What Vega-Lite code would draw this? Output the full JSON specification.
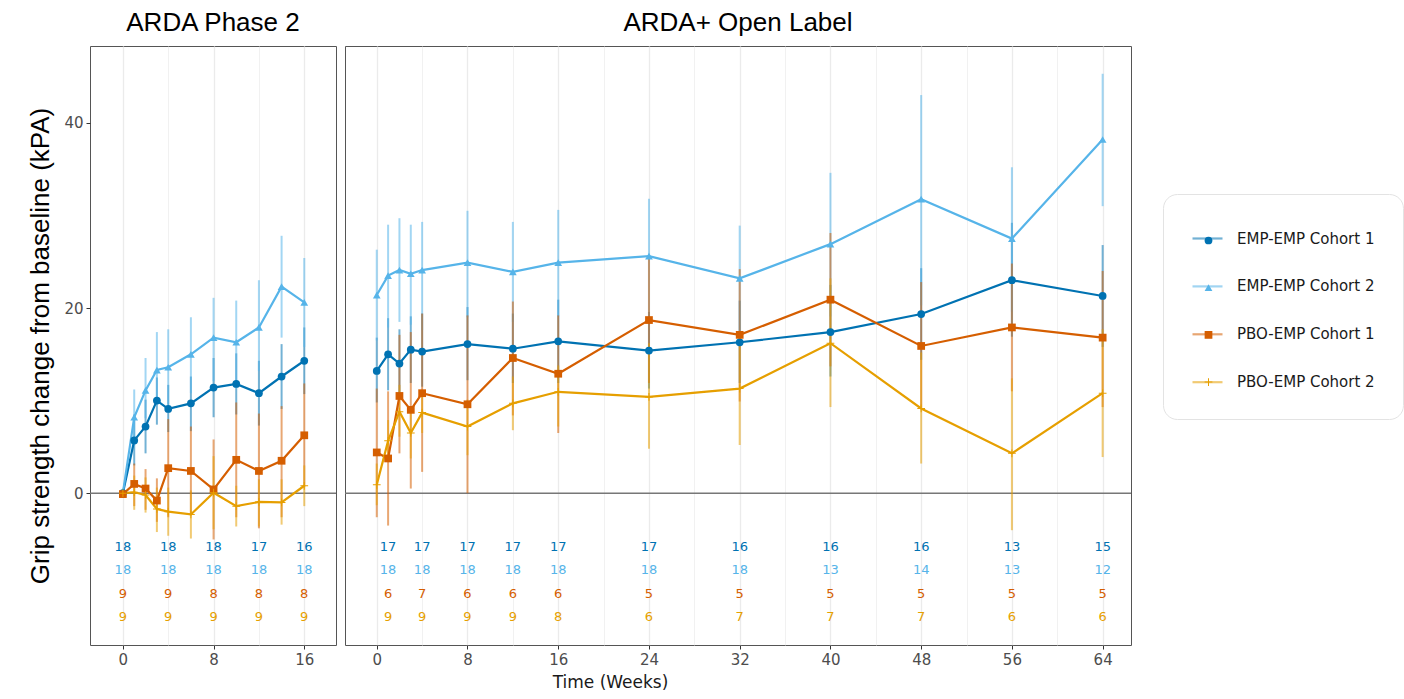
{
  "$schema": "https://vega.github.io/schema/vega-lite/v6.json",
  "background": "white",
  "padding": {"left": 27, "top": 9, "right": 0, "bottom": 4},
  "spacing": 5,
  "config": {
    "view": {"stroke": "#555555", "strokeWidth": 1},
    "axis": {"labelFont": "DejaVu Sans", "labelFontSize": 15, "labelColor": "#4d4d4d", "tickColor": "#333333", "tickSize": 4, "domain": false, "gridColor": "#ebebeb", "labelPadding": 3},
    "legend": {"labelFont": "DejaVu Sans", "labelFontSize": 15, "labelColor": "#1a1a1a", "fillColor": "white", "strokeColor": "#e3e3e3", "cornerRadius": 14, "padding": 28, "rowPadding": 22.9, "labelOffset": 13}
  },
  "datasets": {
    "obs": [
      {"panel":"L","group":"EMP-EMP Cohort 1","week":0,"mean":0,"lo":0,"hi":0},
      {"panel":"L","group":"EMP-EMP Cohort 1","week":1,"mean":5.7,"lo":3.0,"hi":8.5},
      {"panel":"L","group":"EMP-EMP Cohort 1","week":2,"mean":7.2,"lo":4.3,"hi":10.1},
      {"panel":"L","group":"EMP-EMP Cohort 1","week":3,"mean":10.0,"lo":7.4,"hi":12.5},
      {"panel":"L","group":"EMP-EMP Cohort 1","week":4,"mean":9.1,"lo":6.6,"hi":11.7},
      {"panel":"L","group":"EMP-EMP Cohort 1","week":6,"mean":9.7,"lo":6.7,"hi":12.6},
      {"panel":"L","group":"EMP-EMP Cohort 1","week":8,"mean":11.4,"lo":8.2,"hi":14.6},
      {"panel":"L","group":"EMP-EMP Cohort 1","week":10,"mean":11.8,"lo":8.5,"hi":15.1},
      {"panel":"L","group":"EMP-EMP Cohort 1","week":12,"mean":10.8,"lo":7.3,"hi":14.3},
      {"panel":"L","group":"EMP-EMP Cohort 1","week":14,"mean":12.6,"lo":9.1,"hi":16.1},
      {"panel":"L","group":"EMP-EMP Cohort 1","week":16,"mean":14.3,"lo":10.7,"hi":17.9},
      {"panel":"L","group":"EMP-EMP Cohort 2","week":0,"mean":0,"lo":0,"hi":0},
      {"panel":"L","group":"EMP-EMP Cohort 2","week":1,"mean":8.2,"lo":5.2,"hi":11.2},
      {"panel":"L","group":"EMP-EMP Cohort 2","week":2,"mean":11.1,"lo":8.1,"hi":14.6},
      {"panel":"L","group":"EMP-EMP Cohort 2","week":3,"mean":13.3,"lo":9.7,"hi":17.4},
      {"panel":"L","group":"EMP-EMP Cohort 2","week":4,"mean":13.6,"lo":9.6,"hi":17.7},
      {"panel":"L","group":"EMP-EMP Cohort 2","week":6,"mean":15.0,"lo":10.8,"hi":19.0},
      {"panel":"L","group":"EMP-EMP Cohort 2","week":8,"mean":16.8,"lo":12.1,"hi":21.1},
      {"panel":"L","group":"EMP-EMP Cohort 2","week":10,"mean":16.3,"lo":11.7,"hi":20.8},
      {"panel":"L","group":"EMP-EMP Cohort 2","week":12,"mean":17.9,"lo":13.2,"hi":23.0},
      {"panel":"L","group":"EMP-EMP Cohort 2","week":14,"mean":22.3,"lo":16.8,"hi":27.8},
      {"panel":"L","group":"EMP-EMP Cohort 2","week":16,"mean":20.6,"lo":15.8,"hi":25.4},
      {"panel":"L","group":"PBO-EMP Cohort 1","week":0,"mean":-0.1,"lo":-0.1,"hi":-0.1},
      {"panel":"L","group":"PBO-EMP Cohort 1","week":1,"mean":1.0,"lo":-1.4,"hi":3.2},
      {"panel":"L","group":"PBO-EMP Cohort 1","week":2,"mean":0.5,"lo":-1.8,"hi":2.6},
      {"panel":"L","group":"PBO-EMP Cohort 1","week":3,"mean":-0.8,"lo":-3.1,"hi":1.6},
      {"panel":"L","group":"PBO-EMP Cohort 1","week":4,"mean":2.7,"lo":-2.6,"hi":8.0},
      {"panel":"L","group":"PBO-EMP Cohort 1","week":6,"mean":2.4,"lo":-2.4,"hi":7.2},
      {"panel":"L","group":"PBO-EMP Cohort 1","week":8,"mean":0.4,"lo":-5.0,"hi":5.8},
      {"panel":"L","group":"PBO-EMP Cohort 1","week":10,"mean":3.6,"lo":-2.6,"hi":9.8},
      {"panel":"L","group":"PBO-EMP Cohort 1","week":12,"mean":2.4,"lo":-3.8,"hi":8.6},
      {"panel":"L","group":"PBO-EMP Cohort 1","week":14,"mean":3.5,"lo":-2.6,"hi":9.4},
      {"panel":"L","group":"PBO-EMP Cohort 1","week":16,"mean":6.25,"lo":0.65,"hi":11.85},
      {"panel":"L","group":"PBO-EMP Cohort 2","week":0,"mean":0,"lo":0,"hi":0},
      {"panel":"L","group":"PBO-EMP Cohort 2","week":1,"mean":0.1,"lo":-1.8,"hi":1.9},
      {"panel":"L","group":"PBO-EMP Cohort 2","week":2,"mean":-0.2,"lo":-2.1,"hi":1.7},
      {"panel":"L","group":"PBO-EMP Cohort 2","week":3,"mean":-1.7,"lo":-4.2,"hi":0.6},
      {"panel":"L","group":"PBO-EMP Cohort 2","week":4,"mean":-2.0,"lo":-4.6,"hi":0.6},
      {"panel":"L","group":"PBO-EMP Cohort 2","week":6,"mean":-2.3,"lo":-4.9,"hi":0.3},
      {"panel":"L","group":"PBO-EMP Cohort 2","week":8,"mean":0.05,"lo":-3.9,"hi":4.0},
      {"panel":"L","group":"PBO-EMP Cohort 2","week":10,"mean":-1.4,"lo":-3.6,"hi":0.8},
      {"panel":"L","group":"PBO-EMP Cohort 2","week":12,"mean":-0.95,"lo":-3.6,"hi":1.5},
      {"panel":"L","group":"PBO-EMP Cohort 2","week":14,"mean":-1.0,"lo":-3.4,"hi":1.5},
      {"panel":"L","group":"PBO-EMP Cohort 2","week":16,"mean":0.8,"lo":-1.4,"hi":3.0},

      {"panel":"R","group":"EMP-EMP Cohort 1","week":0,"mean":13.2,"lo":9.8,"hi":16.8},
      {"panel":"R","group":"EMP-EMP Cohort 1","week":1,"mean":15.0,"lo":11.1,"hi":18.9},
      {"panel":"R","group":"EMP-EMP Cohort 1","week":2,"mean":14.0,"lo":10.1,"hi":17.7},
      {"panel":"R","group":"EMP-EMP Cohort 1","week":3,"mean":15.5,"lo":11.9,"hi":19.1},
      {"panel":"R","group":"EMP-EMP Cohort 1","week":4,"mean":15.3,"lo":11.5,"hi":19.4},
      {"panel":"R","group":"EMP-EMP Cohort 1","week":8,"mean":16.1,"lo":12.2,"hi":20.1},
      {"panel":"R","group":"EMP-EMP Cohort 1","week":12,"mean":15.6,"lo":11.9,"hi":19.4},
      {"panel":"R","group":"EMP-EMP Cohort 1","week":16,"mean":16.4,"lo":11.9,"hi":20.9},
      {"panel":"R","group":"EMP-EMP Cohort 1","week":24,"mean":15.4,"lo":11.3,"hi":19.6},
      {"panel":"R","group":"EMP-EMP Cohort 1","week":32,"mean":16.3,"lo":11.9,"hi":20.8},
      {"panel":"R","group":"EMP-EMP Cohort 1","week":40,"mean":17.4,"lo":12.6,"hi":22.5},
      {"panel":"R","group":"EMP-EMP Cohort 1","week":48,"mean":19.35,"lo":14.4,"hi":24.3},
      {"panel":"R","group":"EMP-EMP Cohort 1","week":56,"mean":23.0,"lo":16.9,"hi":29.2},
      {"panel":"R","group":"EMP-EMP Cohort 1","week":64,"mean":21.3,"lo":15.8,"hi":26.8},
      {"panel":"R","group":"EMP-EMP Cohort 2","week":0,"mean":21.4,"lo":16.5,"hi":26.3},
      {"panel":"R","group":"EMP-EMP Cohort 2","week":1,"mean":23.5,"lo":17.9,"hi":29.0},
      {"panel":"R","group":"EMP-EMP Cohort 2","week":2,"mean":24.1,"lo":18.5,"hi":29.7},
      {"panel":"R","group":"EMP-EMP Cohort 2","week":3,"mean":23.7,"lo":18.2,"hi":29.0},
      {"panel":"R","group":"EMP-EMP Cohort 2","week":4,"mean":24.1,"lo":17.6,"hi":29.3},
      {"panel":"R","group":"EMP-EMP Cohort 2","week":8,"mean":24.9,"lo":19.0,"hi":30.5},
      {"panel":"R","group":"EMP-EMP Cohort 2","week":12,"mean":23.9,"lo":18.5,"hi":29.3},
      {"panel":"R","group":"EMP-EMP Cohort 2","week":16,"mean":24.9,"lo":19.1,"hi":30.6},
      {"panel":"R","group":"EMP-EMP Cohort 2","week":24,"mean":25.6,"lo":19.6,"hi":31.8},
      {"panel":"R","group":"EMP-EMP Cohort 2","week":32,"mean":23.2,"lo":17.4,"hi":28.9},
      {"panel":"R","group":"EMP-EMP Cohort 2","week":40,"mean":26.9,"lo":19.1,"hi":34.6},
      {"panel":"R","group":"EMP-EMP Cohort 2","week":48,"mean":31.75,"lo":20.3,"hi":43.0},
      {"panel":"R","group":"EMP-EMP Cohort 2","week":56,"mean":27.5,"lo":19.6,"hi":35.2},
      {"panel":"R","group":"EMP-EMP Cohort 2","week":64,"mean":38.2,"lo":31.0,"hi":45.3},
      {"panel":"R","group":"PBO-EMP Cohort 1","week":0,"mean":4.4,"lo":-2.6,"hi":11.3},
      {"panel":"R","group":"PBO-EMP Cohort 1","week":1,"mean":3.75,"lo":-3.5,"hi":11.0},
      {"panel":"R","group":"PBO-EMP Cohort 1","week":2,"mean":10.5,"lo":4.3,"hi":17.1},
      {"panel":"R","group":"PBO-EMP Cohort 1","week":3,"mean":9.0,"lo":0.5,"hi":17.4},
      {"panel":"R","group":"PBO-EMP Cohort 1","week":4,"mean":10.8,"lo":2.3,"hi":19.4},
      {"panel":"R","group":"PBO-EMP Cohort 1","week":8,"mean":9.6,"lo":0.0,"hi":19.2},
      {"panel":"R","group":"PBO-EMP Cohort 1","week":12,"mean":14.6,"lo":8.4,"hi":20.7},
      {"panel":"R","group":"PBO-EMP Cohort 1","week":16,"mean":12.9,"lo":6.5,"hi":19.2},
      {"panel":"R","group":"PBO-EMP Cohort 1","week":24,"mean":18.7,"lo":11.9,"hi":25.4},
      {"panel":"R","group":"PBO-EMP Cohort 1","week":32,"mean":17.1,"lo":9.9,"hi":24.2},
      {"panel":"R","group":"PBO-EMP Cohort 1","week":40,"mean":20.9,"lo":13.7,"hi":28.1},
      {"panel":"R","group":"PBO-EMP Cohort 1","week":48,"mean":15.9,"lo":9.3,"hi":22.8},
      {"panel":"R","group":"PBO-EMP Cohort 1","week":56,"mean":17.9,"lo":11.0,"hi":24.8},
      {"panel":"R","group":"PBO-EMP Cohort 1","week":64,"mean":16.8,"lo":9.3,"hi":24.0},
      {"panel":"R","group":"PBO-EMP Cohort 2","week":0,"mean":0.9,"lo":-1.3,"hi":3.2},
      {"panel":"R","group":"PBO-EMP Cohort 2","week":1,"mean":5.65,"lo":3.6,"hi":7.9},
      {"panel":"R","group":"PBO-EMP Cohort 2","week":2,"mean":8.8,"lo":6.1,"hi":11.7},
      {"panel":"R","group":"PBO-EMP Cohort 2","week":3,"mean":6.5,"lo":3.75,"hi":9.0},
      {"panel":"R","group":"PBO-EMP Cohort 2","week":4,"mean":8.7,"lo":6.5,"hi":10.8},
      {"panel":"R","group":"PBO-EMP Cohort 2","week":8,"mean":7.2,"lo":4.1,"hi":10.1},
      {"panel":"R","group":"PBO-EMP Cohort 2","week":12,"mean":9.7,"lo":6.8,"hi":12.6},
      {"panel":"R","group":"PBO-EMP Cohort 2","week":16,"mean":10.95,"lo":7.2,"hi":13.8},
      {"panel":"R","group":"PBO-EMP Cohort 2","week":24,"mean":10.4,"lo":4.8,"hi":16.2},
      {"panel":"R","group":"PBO-EMP Cohort 2","week":32,"mean":11.3,"lo":5.2,"hi":17.4},
      {"panel":"R","group":"PBO-EMP Cohort 2","week":40,"mean":16.2,"lo":9.3,"hi":23.2},
      {"panel":"R","group":"PBO-EMP Cohort 2","week":48,"mean":9.15,"lo":3.2,"hi":15.2},
      {"panel":"R","group":"PBO-EMP Cohort 2","week":56,"mean":4.3,"lo":-4.0,"hi":12.4},
      {"panel":"R","group":"PBO-EMP Cohort 2","week":64,"mean":10.8,"lo":3.9,"hi":17.7}
    ],
    "counts": [
      {"panel":"L","group":"EMP-EMP Cohort 1","week":0,"n":18,"ypos":-5.8},
      {"panel":"L","group":"EMP-EMP Cohort 1","week":4,"n":18,"ypos":-5.8},
      {"panel":"L","group":"EMP-EMP Cohort 1","week":8,"n":18,"ypos":-5.8},
      {"panel":"L","group":"EMP-EMP Cohort 1","week":12,"n":17,"ypos":-5.8},
      {"panel":"L","group":"EMP-EMP Cohort 1","week":16,"n":16,"ypos":-5.8},
      {"panel":"L","group":"EMP-EMP Cohort 2","week":0,"n":18,"ypos":-8.3},
      {"panel":"L","group":"EMP-EMP Cohort 2","week":4,"n":18,"ypos":-8.3},
      {"panel":"L","group":"EMP-EMP Cohort 2","week":8,"n":18,"ypos":-8.3},
      {"panel":"L","group":"EMP-EMP Cohort 2","week":12,"n":18,"ypos":-8.3},
      {"panel":"L","group":"EMP-EMP Cohort 2","week":16,"n":18,"ypos":-8.3},
      {"panel":"L","group":"PBO-EMP Cohort 1","week":0,"n":9,"ypos":-10.85},
      {"panel":"L","group":"PBO-EMP Cohort 1","week":4,"n":9,"ypos":-10.85},
      {"panel":"L","group":"PBO-EMP Cohort 1","week":8,"n":8,"ypos":-10.85},
      {"panel":"L","group":"PBO-EMP Cohort 1","week":12,"n":8,"ypos":-10.85},
      {"panel":"L","group":"PBO-EMP Cohort 1","week":16,"n":8,"ypos":-10.85},
      {"panel":"L","group":"PBO-EMP Cohort 2","week":0,"n":9,"ypos":-13.35},
      {"panel":"L","group":"PBO-EMP Cohort 2","week":4,"n":9,"ypos":-13.35},
      {"panel":"L","group":"PBO-EMP Cohort 2","week":8,"n":9,"ypos":-13.35},
      {"panel":"L","group":"PBO-EMP Cohort 2","week":12,"n":9,"ypos":-13.35},
      {"panel":"L","group":"PBO-EMP Cohort 2","week":16,"n":9,"ypos":-13.35},
      {"panel":"R","group":"EMP-EMP Cohort 1","week":1,"n":17,"ypos":-5.8},
      {"panel":"R","group":"EMP-EMP Cohort 1","week":4,"n":17,"ypos":-5.8},
      {"panel":"R","group":"EMP-EMP Cohort 1","week":8,"n":17,"ypos":-5.8},
      {"panel":"R","group":"EMP-EMP Cohort 1","week":12,"n":17,"ypos":-5.8},
      {"panel":"R","group":"EMP-EMP Cohort 1","week":16,"n":17,"ypos":-5.8},
      {"panel":"R","group":"EMP-EMP Cohort 1","week":24,"n":17,"ypos":-5.8},
      {"panel":"R","group":"EMP-EMP Cohort 1","week":32,"n":16,"ypos":-5.8},
      {"panel":"R","group":"EMP-EMP Cohort 1","week":40,"n":16,"ypos":-5.8},
      {"panel":"R","group":"EMP-EMP Cohort 1","week":48,"n":16,"ypos":-5.8},
      {"panel":"R","group":"EMP-EMP Cohort 1","week":56,"n":13,"ypos":-5.8},
      {"panel":"R","group":"EMP-EMP Cohort 1","week":64,"n":15,"ypos":-5.8},
      {"panel":"R","group":"EMP-EMP Cohort 2","week":1,"n":18,"ypos":-8.3},
      {"panel":"R","group":"EMP-EMP Cohort 2","week":4,"n":18,"ypos":-8.3},
      {"panel":"R","group":"EMP-EMP Cohort 2","week":8,"n":18,"ypos":-8.3},
      {"panel":"R","group":"EMP-EMP Cohort 2","week":12,"n":18,"ypos":-8.3},
      {"panel":"R","group":"EMP-EMP Cohort 2","week":16,"n":18,"ypos":-8.3},
      {"panel":"R","group":"EMP-EMP Cohort 2","week":24,"n":18,"ypos":-8.3},
      {"panel":"R","group":"EMP-EMP Cohort 2","week":32,"n":18,"ypos":-8.3},
      {"panel":"R","group":"EMP-EMP Cohort 2","week":40,"n":13,"ypos":-8.3},
      {"panel":"R","group":"EMP-EMP Cohort 2","week":48,"n":14,"ypos":-8.3},
      {"panel":"R","group":"EMP-EMP Cohort 2","week":56,"n":13,"ypos":-8.3},
      {"panel":"R","group":"EMP-EMP Cohort 2","week":64,"n":12,"ypos":-8.3},
      {"panel":"R","group":"PBO-EMP Cohort 1","week":1,"n":6,"ypos":-10.85},
      {"panel":"R","group":"PBO-EMP Cohort 1","week":4,"n":7,"ypos":-10.85},
      {"panel":"R","group":"PBO-EMP Cohort 1","week":8,"n":6,"ypos":-10.85},
      {"panel":"R","group":"PBO-EMP Cohort 1","week":12,"n":6,"ypos":-10.85},
      {"panel":"R","group":"PBO-EMP Cohort 1","week":16,"n":6,"ypos":-10.85},
      {"panel":"R","group":"PBO-EMP Cohort 1","week":24,"n":5,"ypos":-10.85},
      {"panel":"R","group":"PBO-EMP Cohort 1","week":32,"n":5,"ypos":-10.85},
      {"panel":"R","group":"PBO-EMP Cohort 1","week":40,"n":5,"ypos":-10.85},
      {"panel":"R","group":"PBO-EMP Cohort 1","week":48,"n":5,"ypos":-10.85},
      {"panel":"R","group":"PBO-EMP Cohort 1","week":56,"n":5,"ypos":-10.85},
      {"panel":"R","group":"PBO-EMP Cohort 1","week":64,"n":5,"ypos":-10.85},
      {"panel":"R","group":"PBO-EMP Cohort 2","week":1,"n":9,"ypos":-13.35},
      {"panel":"R","group":"PBO-EMP Cohort 2","week":4,"n":9,"ypos":-13.35},
      {"panel":"R","group":"PBO-EMP Cohort 2","week":8,"n":9,"ypos":-13.35},
      {"panel":"R","group":"PBO-EMP Cohort 2","week":12,"n":9,"ypos":-13.35},
      {"panel":"R","group":"PBO-EMP Cohort 2","week":16,"n":8,"ypos":-13.35},
      {"panel":"R","group":"PBO-EMP Cohort 2","week":24,"n":6,"ypos":-13.35},
      {"panel":"R","group":"PBO-EMP Cohort 2","week":32,"n":7,"ypos":-13.35},
      {"panel":"R","group":"PBO-EMP Cohort 2","week":40,"n":7,"ypos":-13.35},
      {"panel":"R","group":"PBO-EMP Cohort 2","week":48,"n":7,"ypos":-13.35},
      {"panel":"R","group":"PBO-EMP Cohort 2","week":56,"n":6,"ypos":-13.35},
      {"panel":"R","group":"PBO-EMP Cohort 2","week":64,"n":6,"ypos":-13.35}
    ]
  },
  "resolve": {"scale": {"color": "shared", "fill": "shared", "shape": "shared"}, "legend": {"color": "shared", "fill": "shared", "shape": "shared"}},
  "hconcat": [
    {
      "width": 246,
      "height": 599,
      "title": {"text": "ARDA Phase 2", "font": "Liberation Sans", "fontSize": 26, "fontWeight": "normal", "color": "#000000", "offset": 10, "anchor": "middle"},
      "layer": [
        {
          "data": {"values": [{}]},
          "mark": {"type": "rule", "color": "#777777", "strokeWidth": 1.5},
          "encoding": {"y": {"datum": 0, "type": "quantitative", "scale": {"domain": [-16.4, 48.3], "nice": false, "zero": false}}}
        },
        {
          "data": {"name": "obs"},
          "transform": [{"filter": "datum.panel == 'L' && datum.hi != datum.lo"}],
          "mark": {"type": "rule", "strokeWidth": 2, "opacity": 0.55},
          "encoding": {
            "x": {"field": "week", "type": "quantitative", "scale": {"domain": [-2.9, 18.8], "nice": false, "zero": false},
                  "axis": {"title": null, "values": [0, 4, 8, 12, 16], "labelExpr": "datum.value % 8 == 0 ? datum.label : ''",
                           "gridWidth": {"condition": {"test": "datum.value % 8 == 0", "value": 1.3}, "value": 0.7},
                           "tickOpacity": {"condition": {"test": "datum.value % 8 == 0", "value": 1}, "value": 0}}},
            "y": {"field": "lo", "type": "quantitative", "scale": {"domain": [-16.4, 48.3], "nice": false, "zero": false},
                  "axis": {"title": "Grip strength change from baseline (kPA)", "titleFont": "Liberation Sans", "titleFontSize": 26, "titleFontWeight": "normal", "titleColor": "#000000", "titlePadding": 10,
                           "values": [-10, 0, 10, 20, 30, 40], "labelExpr": "datum.value % 20 == 0 ? datum.label : ''",
                           "gridWidth": {"condition": {"test": "datum.value % 20 == 0", "value": 1.3}, "value": 0.7},
                           "tickOpacity": {"condition": {"test": "datum.value % 20 == 0", "value": 1}, "value": 0}}},
            "y2": {"field": "hi"},
            "color": {"field": "group", "type": "nominal", "scale": {"domain": ["EMP-EMP Cohort 1", "EMP-EMP Cohort 2", "PBO-EMP Cohort 1", "PBO-EMP Cohort 2"], "range": ["#0072B2", "#56B4E9", "#D55E00", "#E69F00"]}},
            "xOffset": {"field": "group", "type": "nominal", "scale": {"type": "band", "domain": ["EMP-EMP Cohort 2", "PBO-EMP Cohort 2", "EMP-EMP Cohort 1", "PBO-EMP Cohort 1"], "range": [-4.5, 4.5], "paddingInner": 0, "paddingOuter": 0}}
          }
        },
        {
          "data": {"name": "obs"},
          "transform": [{"filter": "datum.panel == 'L'"}],
          "mark": {"type": "line", "strokeWidth": 2.2},
          "encoding": {
            "x": {"field": "week", "type": "quantitative"},
            "y": {"field": "mean", "type": "quantitative"},
            "color": {"field": "group", "type": "nominal",
                      "legend": {"title": null, "orient": "none", "legendX": 1073, "legendY": 148, "symbolType": "stroke", "symbolSize": 900, "symbolStrokeWidth": 2.2, "symbolOpacity": 1, "zindex": 0}},
            "xOffset": {"field": "group", "type": "nominal"}
          }
        },
        {
          "data": {"name": "obs"},
          "transform": [{"filter": "datum.panel == 'L'"}],
          "mark": {"type": "point", "filled": true, "opacity": 1, "size": 60, "strokeWidth": 0},
          "encoding": {
            "x": {"field": "week", "type": "quantitative"},
            "y": {"field": "mean", "type": "quantitative"},
            "fill": {"field": "group", "type": "nominal",
                     "scale": {"domain": ["EMP-EMP Cohort 1", "EMP-EMP Cohort 2", "PBO-EMP Cohort 1", "PBO-EMP Cohort 2", "_"], "range": ["#0072B2", "#56B4E9", "#D55E00", "#E69F00", "#ffffff"]},
                     "legend": {"title": null, "orient": "none", "legendX": 1073, "legendY": 149, "values": ["EMP-EMP Cohort 1", "EMP-EMP Cohort 2", "PBO-EMP Cohort 1", "PBO-EMP Cohort 2"], "symbolSize": 60, "symbolStrokeWidth": 0, "symbolOpacity": 1, "padding": 38, "rowPadding": 31.2, "labelExpr": "''", "fillColor": "transparent", "strokeColor": "transparent", "zindex": 2}},
            "shape": {"field": "group", "type": "nominal",
                      "scale": {"domain": ["EMP-EMP Cohort 1", "EMP-EMP Cohort 2", "PBO-EMP Cohort 1", "PBO-EMP Cohort 2", "_"], "range": ["circle", "triangle-up", "square", "M-1,-0.13H1V0.13H-1ZM-0.13,-1H0.13V1H-0.13Z", "circle"]},
                      "legend": {"title": null, "orient": "none", "legendX": 1073, "legendY": 149, "values": ["EMP-EMP Cohort 1", "EMP-EMP Cohort 2", "PBO-EMP Cohort 1", "PBO-EMP Cohort 2"], "symbolSize": 60, "symbolStrokeWidth": 0, "symbolOpacity": 1, "padding": 38, "rowPadding": 31.2, "labelExpr": "''", "fillColor": "transparent", "strokeColor": "transparent", "zindex": 2}},
            "xOffset": {"field": "group", "type": "nominal"}
          }
        },
        {
          "data": {"name": "counts"},
          "transform": [{"filter": "datum.panel == 'L'"}],
          "mark": {"type": "text", "font": "DejaVu Sans", "fontSize": 13},
          "encoding": {
            "x": {"field": "week", "type": "quantitative"},
            "y": {"field": "ypos", "type": "quantitative"},
            "text": {"field": "n", "type": "quantitative"},
            "color": {"field": "group", "type": "nominal"}
          }
        }
      ]
    },
    {
      "width": 786,
      "height": 599,
      "title": {"text": "ARDA+ Open Label", "font": "Liberation Sans", "fontSize": 26, "fontWeight": "normal", "color": "#000000", "offset": 10, "anchor": "middle"},
      "layer": [
        {
          "data": {"values": [{}]},
          "mark": {"type": "rule", "color": "#777777", "strokeWidth": 1.5},
          "encoding": {"y": {"datum": 0, "type": "quantitative", "scale": {"domain": [-16.4, 48.3], "nice": false, "zero": false}}}
        },
        {
          "data": {"name": "obs"},
          "transform": [{"filter": "datum.panel == 'R' && datum.hi != datum.lo"}],
          "mark": {"type": "rule", "strokeWidth": 2, "opacity": 0.55},
          "encoding": {
            "x": {"field": "week", "type": "quantitative", "scale": {"domain": [-2.8, 66.5], "nice": false, "zero": false},
                  "axis": {"title": "Time (Weeks)", "titleFont": "DejaVu Sans", "titleFontSize": 17, "titleFontWeight": "normal", "titleColor": "#1a1a1a", "titleX": 265, "titlePadding": 7,
                           "values": [0, 4, 8, 12, 16, 20, 24, 28, 32, 36, 40, 44, 48, 52, 56, 60, 64], "labelExpr": "datum.value % 8 == 0 ? datum.label : ''",
                           "gridWidth": {"condition": {"test": "datum.value % 8 == 0", "value": 1.3}, "value": 0.7},
                           "tickOpacity": {"condition": {"test": "datum.value % 8 == 0", "value": 1}, "value": 0}}},
            "y": {"field": "lo", "type": "quantitative", "scale": {"domain": [-16.4, 48.3], "nice": false, "zero": false},
                  "axis": {"title": null, "labels": false, "ticks": false, "values": [-10, 0, 10, 20, 30, 40],
                           "gridWidth": {"condition": {"test": "datum.value % 20 == 0", "value": 1.3}, "value": 0.7}}},
            "y2": {"field": "hi"},
            "color": {"field": "group", "type": "nominal"},
            "xOffset": {"field": "group", "type": "nominal", "scale": {"type": "band", "domain": ["EMP-EMP Cohort 2", "PBO-EMP Cohort 2", "EMP-EMP Cohort 1", "PBO-EMP Cohort 1"], "range": [-4.5, 4.5], "paddingInner": 0, "paddingOuter": 0}}
          }
        },
        {
          "data": {"name": "obs"},
          "transform": [{"filter": "datum.panel == 'R'"}],
          "mark": {"type": "line", "strokeWidth": 2.2},
          "encoding": {
            "x": {"field": "week", "type": "quantitative"},
            "y": {"field": "mean", "type": "quantitative"},
            "color": {"field": "group", "type": "nominal"},
            "xOffset": {"field": "group", "type": "nominal"}
          }
        },
        {
          "data": {"name": "obs"},
          "transform": [{"filter": "datum.panel == 'R'"}],
          "mark": {"type": "point", "filled": true, "opacity": 1, "size": 60, "strokeWidth": 0},
          "encoding": {
            "x": {"field": "week", "type": "quantitative"},
            "y": {"field": "mean", "type": "quantitative"},
            "fill": {"field": "group", "type": "nominal"},
            "shape": {"field": "group", "type": "nominal"},
            "xOffset": {"field": "group", "type": "nominal"}
          }
        },
        {
          "data": {"name": "counts"},
          "transform": [{"filter": "datum.panel == 'R'"}],
          "mark": {"type": "text", "font": "DejaVu Sans", "fontSize": 13},
          "encoding": {
            "x": {"field": "week", "type": "quantitative"},
            "y": {"field": "ypos", "type": "quantitative"},
            "text": {"field": "n", "type": "quantitative"},
            "color": {"field": "group", "type": "nominal"}
          }
        }
      ]
    }
  ]
}
